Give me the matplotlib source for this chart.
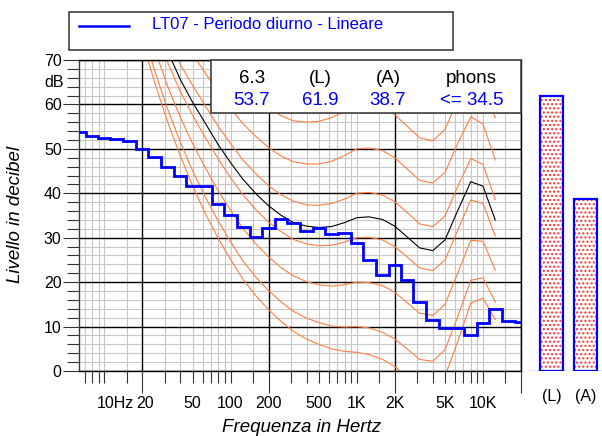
import numpy as np
import matplotlib
matplotlib.use("Agg")
import matplotlib.pyplot as plt
from matplotlib.patches import Rectangle
from matplotlib.lines import Line2D
from matplotlib.ticker import FixedLocator, NullFormatter

plt.rcParams['font.family'] = ['Liberation Sans', 'DejaVu Sans']

# ---- third-octave spectrum LT07 (6.3 Hz .. 20 kHz) ----
band_freqs = [6.3, 8, 10, 12.5, 16, 20, 25, 31.5, 40, 50, 63, 80, 100, 125, 160,
              200, 250, 315, 400, 500, 630, 800, 1000, 1250, 1600, 2000, 2500,
              3150, 4000, 5000, 6300, 8000, 10000, 12500, 16000, 20000]
band_levels = [53.7, 52.8, 52.4, 52.2, 51.7, 50.0, 48.2, 45.9, 43.8, 41.7, 41.7,
               37.7, 35.2, 32.5, 30.2, 32.1, 34.2, 33.4, 31.6, 32.2, 30.8, 31.1,
               28.9, 24.9, 21.7, 23.9, 20.4, 15.5, 11.5, 9.7, 9.7, 8.2, 10.8,
               14.0, 11.3, 11.0]

# ---- equal-loudness contours (dB at band centres, 20 Hz .. 12.5 kHz) ----
contour_freqs = [20, 25, 31.5, 40, 50, 63, 80, 100, 125, 160, 200, 250, 315, 400,
                 500, 630, 800, 1000, 1250, 1600, 2000, 2500, 3150, 4000, 5000,
                 6300, 8000, 10000, 12500]
threshold = [74.3, 65.0, 56.3, 48.4, 41.7, 35.5, 29.8, 25.1, 20.7, 16.8, 13.8, 11.2,
             8.9, 7.2, 6.0, 5.0, 4.4, 4.2, 3.7, 2.6, 1.0, -1.2, -3.6, -3.9, -1.1,
             6.6, 15.3, 16.4, 11.6]
phon10 = [76.8, 67.7, 59.2, 51.5, 45.1, 39.2, 33.7, 29.1, 24.8, 21.0, 18.1, 15.6,
          13.4, 11.9, 10.9, 10.1, 9.9, 10.0, 9.7, 8.7, 7.2, 5.0, 2.6, 2.2, 4.8,
          12.2, 20.4, 21.0, 15.5]
phon20 = [81.3, 72.5, 64.3, 57.1, 51.2, 45.8, 40.5, 36.2, 32.1, 28.5, 25.7, 23.3,
          21.4, 20.1, 19.4, 19.1, 19.4, 20.0, 19.9, 19.2, 17.7, 15.4, 13.0, 12.5,
          15.0, 22.0, 29.4, 29.2, 22.7]
phon30 = [86.0, 77.6, 69.7, 62.9, 57.6, 52.6, 47.7, 43.5, 39.7, 36.2, 33.5, 31.4,
          29.6, 28.6, 28.2, 28.3, 29.0, 30.0, 30.1, 29.5, 28.0, 25.7, 23.2, 22.6,
          25.0, 31.7, 38.5, 37.7, 30.4]
phon40 = [91.0, 82.9, 75.4, 69.0, 64.3, 59.7, 55.0, 51.2, 47.5, 44.3, 41.7, 39.7,
          38.2, 37.4, 37.3, 37.7, 38.7, 40.0, 40.2, 39.6, 38.1, 35.7, 33.1, 32.5,
          34.9, 41.5, 47.8, 46.5, 38.6]
phon50 = [96.2, 88.5, 81.3, 75.4, 71.3, 67.1, 62.7, 59.1, 55.7, 52.7, 50.3, 48.4,
          47.1, 46.6, 46.6, 47.2, 48.5, 50.0, 50.2, 49.6, 48.0, 45.5, 42.9, 42.3,
          44.7, 51.2, 57.2, 55.6, 47.5]
phon60 = [101.7, 94.4, 87.6, 82.1, 78.6, 74.8, 70.6, 67.3, 64.2, 61.4, 59.2, 57.5,
          56.3, 56.0, 56.2, 57.0, 58.4, 60.0, 60.1, 59.5, 57.7, 55.1, 52.5, 51.8,
          54.4, 60.9, 66.7, 65.0, 57.0]
# contour through the measured loudness level
phon_meas = [88.2, 79.9, 72.2, 65.6, 60.5, 55.8, 50.9, 46.9, 43.2, 39.8, 37.2, 35.1,
             33.4, 32.6, 32.3, 32.5, 33.4, 34.5, 34.7, 34.1, 32.6, 30.2, 27.7, 27.1,
             29.5, 36.1, 42.6, 41.6, 34.0]

# ---- summary values ----
summary_heads = ['6.3', '(L)', '(A)', 'phons']
summary_vals = ['53.7', '61.9', '38.7', '<= 34.5']
total_labels = ['(L)', '(A)']
total_levels = [61.9, 38.7]

# ---- axis ticks ----
x_long_ticks = [20, 200, 2000, 20000]
x_short_ticks = [7, 8, 9, 10, 15, 30, 40, 50, 60, 70, 80, 90, 100, 150,
                 300, 400, 500, 600, 700, 800, 900, 1000, 1500,
                 3000, 4000, 5000, 6000, 7000, 8000, 9000, 10000, 15000]
x_label_freqs = [10, 20, 50, 100, 200, 500, 1000, 2000, 5000, 10000]
x_label_texts = ['10Hz', '20', '50', '100', '200', '500', '1K', '2K', '5K', '10K']
y_major = list(range(0, 71, 10))
y_minor = [v for v in range(0, 71, 2) if v % 10]

W, H = 602, 436
fig = plt.figure(figsize=(W / 100, H / 100), dpi=100)


def fx(px):
    return px / W


def fy(py):
    return 1 - py / H


ORANGE = '#FF7F40'
BLUE = '#0000FF'
GRID = '#c8c8c8'

# ---------------- main spectrum axes ----------------
ax = fig.add_axes([fx(79), fy(371), (521 - 79) / W, (371 - 60) / H])
ax.set_xscale('log')
ax.set_xlim(6.3, 20000)
ax.set_ylim(0, 70)

ax.xaxis.set_major_locator(FixedLocator(x_long_ticks))
ax.xaxis.set_minor_locator(FixedLocator(x_short_ticks))
ax.xaxis.set_major_formatter(NullFormatter())
ax.xaxis.set_minor_formatter(NullFormatter())
ax.yaxis.set_major_locator(FixedLocator(y_major))
ax.yaxis.set_minor_locator(FixedLocator(y_minor))

# grid: light lines first, the heavy decade / 10 dB lines over them
for f in x_short_ticks:
    ax.axvline(f, color=GRID, lw=0.8, zorder=0.5)
for v in y_minor:
    ax.axhline(v, color=GRID, lw=0.8, zorder=0.5)
for f in x_long_ticks:
    ax.axvline(f, color='black', lw=1.0, zorder=0.7)
for v in y_major:
    ax.axhline(v, color='black', lw=1.0, zorder=0.7)

ax.tick_params(axis='x', which='major', direction='out', length=15.8, width=0.8,
               color='#333333')
ax.tick_params(axis='x', which='minor', direction='out', length=8.6, width=0.8,
               color='#333333')
ax.tick_params(axis='y', which='major', direction='out', length=11.5, width=0.8,
               color='#333333', pad=1, labelsize=11.5)
ax.tick_params(axis='y', which='minor', direction='out', length=8.6, width=0.8,
               color='#333333')

ax.spines['left'].set_color('#006400')
ax.spines['left'].set_linewidth(1.0)
for side in ('top', 'right', 'bottom'):
    ax.spines[side].set_color('black')
    ax.spines[side].set_linewidth(1.0)

# frequency labels under the axis
for f, t in zip(x_label_freqs, x_label_texts):
    dx, ha = 0, 'center'
    if t == '10Hz':
        dx, ha = -7.5, 'left'
    elif t == '20':
        dx = 3
    ax.annotate(t, xy=(f, 0), xycoords=('data', 'axes fraction'),
                xytext=(dx, -32), textcoords='offset pixels',
                ha=ha, va='center', fontsize=11.5, annotation_clip=False)

# equal-loudness contours
for curve in (threshold, phon10, phon20, phon30, phon40, phon50, phon60):
    ax.plot(contour_freqs, curve, color=ORANGE, lw=0.8, zorder=2)
ax.plot(contour_freqs, phon_meas, color='black', lw=0.8, zorder=3)

# measured third-octave spectrum as steps
bf = np.array(band_freqs, dtype=float)
edges = np.concatenate([[bf[0]], np.sqrt(bf[:-1] * bf[1:]), [bf[-1]]])
ax.stairs(band_levels, edges, baseline=None, color=BLUE, lw=2.0, zorder=4)

# summary box in the upper part of the plot
xa0 = (210.7 - 79) / 442
ya0 = (371 - 113.3) / 311
ax.add_patch(Rectangle((xa0, ya0), 1 - xa0, 1 - ya0, transform=ax.transAxes,
                       facecolor='white', edgecolor='#404040', lw=1.2,
                       zorder=10, clip_on=False))
col_x = [251.8, 320, 388, 471.5]
for cx, head, val in zip(col_x, summary_heads, summary_vals):
    fig.text(fx(cx), fy(83.3), head, ha='center', va='baseline',
             fontsize=13.5, color='black', zorder=11)
    fig.text(fx(cx), fy(105), val, ha='center', va='baseline',
             fontsize=13.5, color=BLUE, zorder=11)

# "dB" unit next to the y axis
fig.text(fx(64), fy(82.7), 'dB', ha='right', va='center', fontsize=11.5)

# axis titles
fig.text(fx(16), fy(214), 'Livello in decibel', rotation=90, ha='center',
         va='center', fontsize=13.5, style='italic')
fig.text(fx(301.7), fy(427), 'Frequenza in Hertz', ha='center', va='center',
         fontsize=13.5, style='italic')

# ---------------- legend box ----------------
fig.patches.append(Rectangle((fx(69), fy(50)), (453 - 69) / W, (50 - 12) / H,
                             transform=fig.transFigure, facecolor='white',
                             edgecolor='#303030', lw=1.1))
fig.lines.append(Line2D([fx(79), fx(129)], [fy(25.7), fy(25.7)],
                        transform=fig.transFigure, color=BLUE, lw=1.8))
fig.text(fx(152), fy(29), 'LT07 - Periodo diurno - Lineare', ha='left',
         va='baseline', fontsize=12, color=BLUE)

# ---------------- overall level bars ----------------
ax2 = fig.add_axes([fx(529), fy(371), (602 - 529) / W, (371 - 60) / H])
ax2.set_ylim(0, 70)
ax2.set_xlim(-0.66, 1.47)
ax2.axis('off')
xb = np.arange(len(total_levels))
ax2.bar(xb, total_levels, width=0.67, facecolor='white', edgecolor='#ff3030',
        lw=0, hatch='....', zorder=2)
ax2.bar(xb, total_levels, width=0.67, fill=False, edgecolor=BLUE, lw=1.6,
        zorder=3)
ax2.axhline(0, color='#808080', lw=1.0, zorder=1)
for xi, t in zip(xb, total_labels):
    ax2.annotate(t, xy=(xi, 0), xycoords=('data', 'axes fraction'),
                 xytext=(0, -26), textcoords='offset pixels',
                 ha='center', va='center', fontsize=11.5, annotation_clip=False)

fig.savefig('out.png', dpi=100)
